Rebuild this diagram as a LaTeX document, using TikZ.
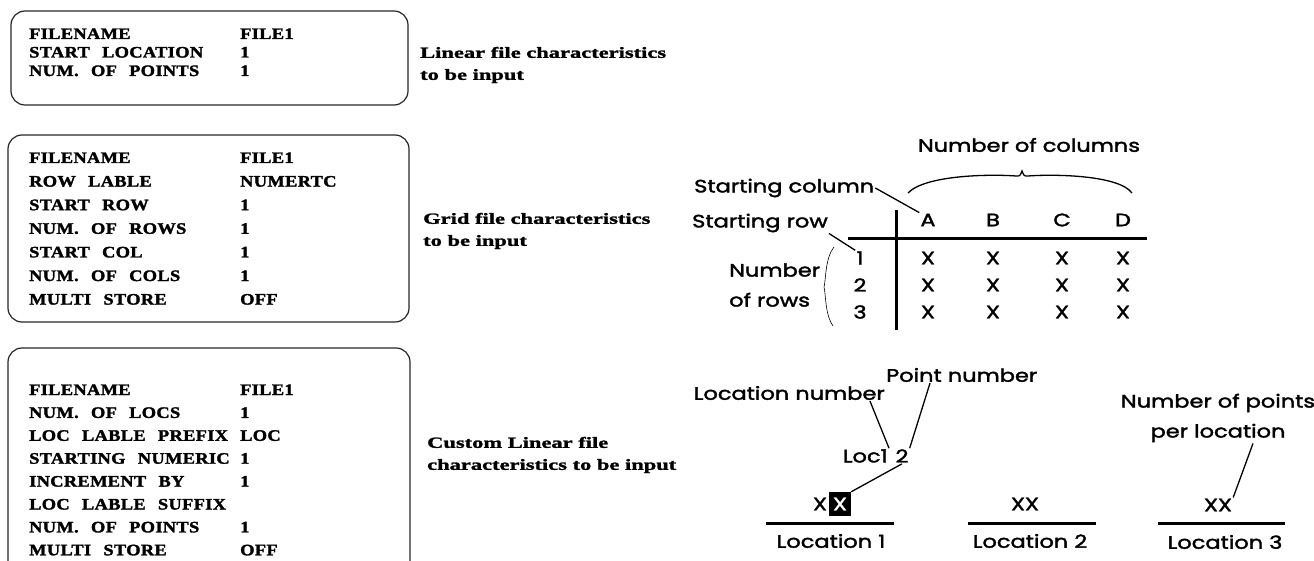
\documentclass[tikz,border=0pt]{standalone}
\usepackage{fontspec}
\setmainfont{Liberation Serif}
\newfontfamily\serifgras[FakeStretch=1.15, FakeBold=1.8, LetterSpace=2, WordSpace=2.5]{Liberation Serif}
\newfontfamily\seriflarge[FakeStretch=1.45, FakeBold=1.6]{Liberation Serif}
\newfontfamily\sansgeo[FakeStretch=1.25, FakeBold=2]{Poppins}
\begin{document}
\begin{tikzpicture}[x=1pt,y=-1pt]
		% Styles
		\tikzstyle{cadre}=[draw=black!85, line width=1.2pt, rounded corners=14pt]
		\tikzstyle{champ}=[anchor=base west, inner sep=0pt, font=\serifgras\bfseries\fontsize{16}{18}\selectfont]
		\tikzstyle{legende}=[anchor=west, align=left, inner sep=0pt, font=\seriflarge\bfseries\fontsize{15.5}{22}\selectfont]
		\tikzstyle{texte}=[inner sep=1pt, font=\sansgeo\fontsize{18}{30}\selectfont]
		\tikzstyle{trait}=[line width=1.3pt]
		\tikzstyle{barre}=[line width=3pt]
		% Dimensions
		\def\ColChamp{29}
		\def\ColValeur{240}
		\useasboundingbox (0,0) rectangle (1314,561);
		% Cadres
		\draw[cadre] (11,11) rectangle (408,105);
		\draw[cadre] (8,135) rectangle (409,322);
		\draw[cadre] (8,348) rectangle (410,575);
		% Cadre 1 : fichier lineaire
		\foreach \nom/\val [count=\i] in {FILENAME/FILE1, START LOCATION/1, NUM. OF POINTS/1} {
			\node[champ] (fa\i) at (\ColChamp,{39+(\i-1)*18.5}) {\nom};
			\node[champ] (va\i) at (\ColValeur,{39+(\i-1)*18.5}) {\val};
		}
		\node[legende] (lega) at (420,65) {Linear file characteristics\\to be input};
		% Cadre 2 : fichier grille
		\foreach \nom/\val [count=\i] in {FILENAME/FILE1, ROW LABLE/NUMERTC, START ROW/1, NUM. OF ROWS/1, START COL/1, NUM. OF COLS/1, MULTI STORE/OFF} {
			\node[champ] (fb\i) at (\ColChamp,{163+(\i-1)*23.6}) {\nom};
			\node[champ] (vb\i) at (\ColValeur,{163+(\i-1)*23.6}) {\val};
		}
		\node[legende] (legb) at (423,231) {Grid file characteristics\\to be input};
		% Cadre 3 : fichier lineaire personnalise
		\foreach \nom [count=\i] in {FILENAME, NUM. OF LOCS, LOC LABLE PREFIX, STARTING NUMERIC, INCREMENT BY, LOC LABLE SUFFIX, NUM. OF POINTS, MULTI STORE}
			\node[champ] (fc\i) at (\ColChamp,{395+(\i-1)*22.9}) {\nom};
		\foreach \val/\i in {FILE1/1, 1/2, LOC/3, 1/4, 1/5, 1/7, OFF/8}
			\node[champ] (vc\i) at (\ColValeur,{395+(\i-1)*22.9}) {\val};
		\node[legende] (legc) at (427,455) {Custom Linear file\\characteristics to be input};
		% Grille
		\foreach \c/\x in {A/928,B/993,C/1062,D/1123}
			\node[texte] (col\c) at (\x,220) {\c};
		\foreach \r/\y in {1/258,2/285,3/312} {
			\node[texte] (lig\r) at (860,\y) {\r};
			\foreach \c/\x in {A/928,B/993,C/1062,D/1123}
				\node[texte] (x\c\r) at (\x,\y) {X};
		}
		\draw[barre] (848,239) -- (1147,239);
		\draw[barre] (896,210) -- (896,330);
		\node[texte] (nbcol) at (1029,145) {Number of columns};
		\draw[trait] (908,193) .. controls (925,175) and (990,174) .. (1016,176)
			.. controls (1020,176) .. (1022,171) .. controls (1024,176) .. (1028,176)
			.. controls (1054,174) and (1119,175) .. (1132,193);
		\node[texte, anchor=west] (debcol) at (693,188) {Starting column};
		\node[texte, anchor=west] (deblig) at (691,223) {Starting row};
		\node[texte, anchor=west, align=left] (nblig) at (728,285) {Number\\of rows};
		\draw[line width=0.6pt] (834,247) .. controls (825,258) and (826,280) .. (824,287)
			.. controls (826,295) and (825,315) .. (833,326);
		\draw[trait] (debcol.east) -- (colA.north west);
		\draw[trait] (deblig.south east) -- (lig1.north west);
		% Emplacements
		\node[texte, anchor=east] (numloc) at (886,393) {Location number};
		\node[texte, anchor=west] (numpt) at (885,375) {Point number};
		\node[texte, anchor=east] (loc) at (889,456) {Loc1};
		\node[texte] (pt) at (902,456) {2};
		\node[texte] (x1a) at (820,504) {X};
		\node[texte, fill=black, text=white, inner sep=0pt, minimum width=22pt, minimum height=24pt] (x1b) at (840,504) {X};
		\draw[trait] ([xshift=-16pt]numloc.south east) -- (loc.north east);
		\draw[trait] ([xshift=45pt]numpt.south west) -- (pt.north east);
		\draw[trait] (pt.south) -- (x1b.north east);
		\node[texte] (xx2) at (1025,504) {XX};
		\node[texte, align=center] (nbpts) at (1218,418) {Number of points\\per location};
		\node[texte] (xx3) at (1218,505) {XX};
		\draw[trait] ([xshift=35pt]nbpts.south) -- (xx3.north east);
		\draw[barre] (766,523) -- (894,523);
		\draw[barre] (968,523) -- (1096,523);
		\draw[barre] (1158,523) -- (1285,523);
		\node[texte] (lieu1) at (831,541) {Location 1};
		\node[texte] (lieu2) at (1030,541) {Location 2};
		\node[texte] (lieu3) at (1225,542) {Location 3};
\end{tikzpicture}
\end{document}
